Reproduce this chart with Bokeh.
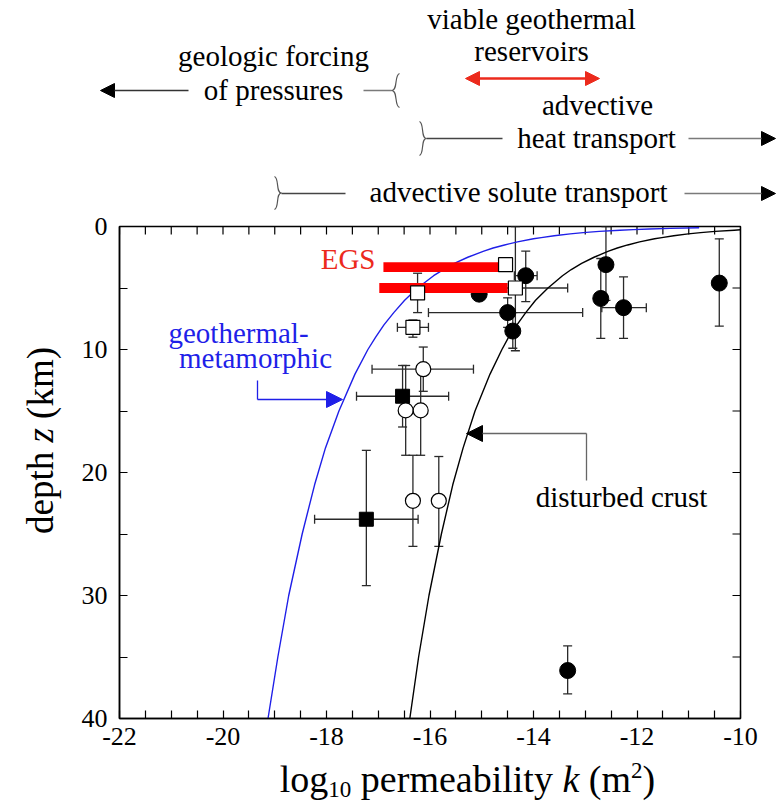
from bokeh.plotting import figure
from bokeh.models import (Range1d, FixedTicker, Arrow, NormalHead,
                          Whisker, TeeHead, ColumnDataSource)
from bokeh.layouts import row
from bokeh.embed import file_html
from bokeh.resources import INLINE
from bokeh.core.properties import value

SERIF = "Liberation Serif"

# ---------------- data ----------------
x_ticks = [-22, -20, -18, -16, -14, -12, -10]
x_tick_labels = ["-22", "-20", "-18", "-16", "-14", "-12", "-10"]
x_minor = [-21.5, -21, -20.5, -19.5, -19, -18.5, -17.5, -17, -16.5, -15.5, -15, -14.5,
           -13.5, -13, -12.5, -11.5, -11, -10.5]
y_ticks = [0, 10, 20, 30, 40]
y_tick_labels = ["0", "10", "20", "30", "40"]
y_minor = [5, 15, 25, 35]

# geothermal-metamorphic curve
gm_z = [0.1, 0.15, 0.2, 0.25, 0.3, 0.4, 0.5, 0.6, 0.75, 0.9, 1.0, 1.25, 1.5, 1.75, 2, 2.5, 3,
        3.5, 4, 5, 6, 7, 8, 9, 10, 12, 15, 18, 21, 25, 30, 35, 40]
gm_k = [-10.80, -11.36, -11.76, -12.07, -12.33, -12.73, -13.04, -13.29, -13.60, -13.85, -14.00,
        -14.31, -14.56, -14.78, -14.96, -15.27, -15.53, -15.74, -15.93, -16.24, -16.49, -16.70,
        -16.89, -17.05, -17.20, -17.45, -17.76, -18.02, -18.23, -18.47, -18.73, -18.94, -19.13]

# disturbed crust curve
dc_z = [0.27, 0.3, 0.4, 0.5, 0.6, 0.75, 0.9, 1.0, 1.25, 1.5, 1.75, 2, 2.5, 3, 3.5, 4, 5, 6, 7,
        8, 9, 10, 12, 15, 18, 21, 25, 30, 35, 40]
dc_k = [-10.00, -10.12, -10.49, -10.77, -11.01, -11.29, -11.52, -11.66, -11.95, -12.18, -12.38,
        -12.55, -12.83, -13.07, -13.27, -13.44, -13.72, -13.96, -14.15, -14.32, -14.48, -14.61,
        -14.84, -15.13, -15.36, -15.56, -15.78, -16.02, -16.22, -16.39]

# filled circles
fc_k = [-15.05, -14.50, -14.40, -14.15, -12.60, -12.70, -12.26, -10.41, -13.34]
fc_z = [5.5, 7.0, 8.5, 4.0, 3.1, 5.85, 6.6, 4.6, 36.1]
fc_k_lo = [None, -16.03, None, -14.37, None, None, -12.68, None, None]
fc_k_hi = [None, -13.05, None, -13.93, None, None, -11.82, None, None]
fc_z_lo = [None, 5.8, 7.0, 2.0, 0.0, 2.6, 4.1, 1.0, 34.1]
fc_z_hi = [None, 8.2, 9.9, 6.1, 6.0, 9.1, 9.1, 8.1, 38.0]

# open squares
os_k = [-14.54, -14.35, -16.24, -16.33]
os_z = [3.1, 5.0, 5.4, 8.2]
os_k_lo = [None, -15.35, None, -16.63]
os_k_hi = [None, -13.34, None, -16.03]
os_z_lo = [None, 0.0, 3.8, 7.6]
os_z_hi = [None, 10.1, 7.0, 9.0]

# filled squares
fs_k = [-16.53, -17.23]
fs_z = [13.8, 23.8]
fs_k_lo = [-17.42, -18.23]
fs_k_hi = [-15.64, -16.23]
fs_z_lo = [11.3, 18.2]
fs_z_hi = [16.3, 29.2]

# open circles
oc_k = [-16.13, -16.47, -16.18, -16.33, -15.83]
oc_z = [11.6, 14.95, 14.95, 22.3, 22.3]
oc_k_lo = [-17.12, None, None, None, None]
oc_k_hi = [-15.16, None, None, None, None]
oc_z_lo = [9.8, 11.3, 11.3, 18.6, 18.7]
oc_z_hi = [13.4, 18.6, 18.6, 26.0, 26.0]

# EGS bars
egs_z = [3.3, 5.0]
egs_left = [-16.90, -16.98]
egs_right = [-14.66, -14.50]

# ---------------- styling ----------------
BLUE = "#1f1fe8"
RED = "#ff0000"
RED_T = "#ec2a1c"
ERR = "#2a2a2a"
GRAY = "#7a7a7a"

# reference-pixel -> data helpers (annotation placement only)
X0, X1, Y0, Y1 = 119, 740, 226, 718
def kx(px):
    return -22 + (px - X0) * 12.0 / (X1 - X0)
def zy(py):
    return (py - Y0) * 40.0 / (Y1 - Y0)

BL = 0.36  # empirical shift so that the alphabetic baseline lands where wanted
def base(py, size):
    return py - BL * size

TOTAL_W = 776

# ---------------- top annotation panel (pixel coordinates) ----------------
TOP_H = 210
TF = 29
top = figure(width=TOTAL_W, height=TOP_H, x_range=Range1d(0, TOTAL_W), y_range=Range1d(TOP_H, 0),
             output_backend="svg", toolbar_location=None, min_border=0,
             x_axis_location=None, y_axis_location=None)
top.grid.visible = False
top.outline_line_color = None

ttxt = dict(text_font=value(SERIF), text_font_size=value(f"{TF}px"), text_align="center",
            text_baseline="alphabetic", text_color="black")
top.text(x=[531, 531], y=[base(29, TF), base(61, TF)], text=["viable geothermal", "reservoirs"], **ttxt)
top.text(x=[273, 273], y=[base(66, TF), base(100, TF)], text=["geologic forcing", "of pressures"], **ttxt)
top.text(x=[597, 596], y=[base(115, TF), base(148, TF)], text=["advective", "heat transport"], **ttxt)
top.text(x=[518], y=[base(202, TF)], text=["advective solute transport"], **ttxt)

top.add_layout(Arrow(start=NormalHead(size=14, fill_color=RED_T, line_color=RED_T),
                     end=NormalHead(size=14, fill_color=RED_T, line_color=RED_T),
                     x_start=465, y_start=78, x_end=599, y_end=78,
                     line_color=RED_T, line_width=2.5))
top.add_layout(Arrow(end=NormalHead(size=14, fill_color="black", line_color="black"),
                     x_start=188, y_start=90, x_end=100, y_end=90,
                     line_color="#333333", line_width=1.5))
top.segment(x0=[363], y0=[90], x1=[391], y1=[90], line_color=GRAY, line_width=1.5)
top.add_layout(Arrow(end=NormalHead(size=14, fill_color="black", line_color="black"),
                     x_start=688, y_start=138, x_end=775, y_end=138,
                     line_color=GRAY, line_width=1.5))
top.add_layout(Arrow(end=NormalHead(size=14, fill_color="black", line_color="black"),
                     x_start=684, y_start=193, x_end=775, y_end=193,
                     line_color=GRAY, line_width=1.5))
top.segment(x0=[426, 281], y0=[138, 193], x1=[502, 345], y1=[138, 193],
            line_color="#444444", line_width=1.3)

def brace(fig, xe, xp, y0, y1):
    ym = (y0 + y1) / 2.0
    fig.bezier(x0=[xe, xp], y0=[y0, ym], x1=[xp, xe], y1=[ym, y1],
               cx0=[xe + 0.7 * (xp - xe), xe + 0.15 * (xp - xe)], cy0=[y0 + 2, ym],
               cx1=[xe + 0.15 * (xp - xe), xe + 0.7 * (xp - xe)], cy1=[ym, y1 - 2],
               line_color="#555555", line_width=1.2)
brace(top, 399, 391, 73, 107)
brace(top, 419, 426, 121, 155)
brace(top, 274, 281, 176, 209)

# ---------------- main plot ----------------
LEFT_W = 74
MB_TOP, MB_BOT = 16, 40
MAIN_H = MB_TOP + (Y1 - Y0) + MB_BOT
p = figure(width=TOTAL_W - LEFT_W, height=MAIN_H, x_range=Range1d(-22, -10), y_range=Range1d(40, 0),
           output_backend="svg", toolbar_location=None,
           min_border_left=X0 - LEFT_W, min_border_right=TOTAL_W - X1,
           min_border_top=MB_TOP, min_border_bottom=MB_BOT)
p.grid.visible = False
p.outline_line_color = "black"
p.outline_line_width = 1.5

p.xaxis.ticker = FixedTicker(ticks=x_ticks, minor_ticks=x_minor)
p.yaxis.ticker = FixedTicker(ticks=y_ticks, minor_ticks=y_minor)
p.xaxis.major_label_overrides = dict(zip(x_ticks, x_tick_labels))
p.yaxis.major_label_overrides = dict(zip(y_ticks, y_tick_labels))
for ax in (p.xaxis[0], p.yaxis[0]):
    ax.major_tick_in = 8
    ax.major_tick_out = 0
    ax.minor_tick_in = 8
    ax.minor_tick_out = 0
    ax.major_tick_line_color = "black"
    ax.minor_tick_line_color = "black"
    ax.major_tick_line_width = 1.2
    ax.minor_tick_line_width = 1.2
    ax.axis_line_color = "black"
    ax.axis_line_width = 1.5
    ax.major_label_text_font = SERIF
    ax.major_label_text_font_size = "26px"
    ax.major_label_text_color = "black"
p.xaxis.major_label_standoff = 9
p.yaxis.major_label_standoff = 12

# inward ticks on the top and right edges of the frame
tick_dk = 8 * 12.0 / (X1 - X0)
tick_dz = 8 * 40.0 / (Y1 - Y0)
all_x = x_ticks + x_minor
all_y = y_ticks + y_minor
p.segment(x0=all_x, y0=[0] * len(all_x), x1=all_x, y1=[tick_dz] * len(all_x),
          line_color="black", line_width=1.2)
p.segment(x0=[-10] * len(all_y), y0=all_y, x1=[-10 - tick_dk] * len(all_y), y1=all_y,
          line_color="black", line_width=1.2)

# curves
p.line(gm_k, gm_z, line_color=BLUE, line_width=1.4)
p.line(dc_k, dc_z, line_color="black", line_width=1.4)

def add_err(ks, zs, klo, khi, zlo, zhi):
    ih = [i for i in range(len(ks)) if klo[i] is not None]
    if ih:
        src = ColumnDataSource(dict(base=[zs[i] for i in ih], lower=[klo[i] for i in ih],
                                    upper=[khi[i] for i in ih]))
        p.add_layout(Whisker(source=src, base="base", lower="lower", upper="upper",
                             dimension="width", line_color=ERR, line_width=1.3,
                             upper_head=TeeHead(size=9, line_color=ERR, line_width=1.3),
                             lower_head=TeeHead(size=9, line_color=ERR, line_width=1.3)))
    iv = [i for i in range(len(ks)) if zlo[i] is not None]
    if iv:
        src = ColumnDataSource(dict(base=[ks[i] for i in iv], lower=[zlo[i] for i in iv],
                                    upper=[zhi[i] for i in iv]))
        p.add_layout(Whisker(source=src, base="base", lower="lower", upper="upper",
                             dimension="height", line_color=ERR, line_width=1.3,
                             upper_head=TeeHead(size=9, line_color=ERR, line_width=1.3),
                             lower_head=TeeHead(size=9, line_color=ERR, line_width=1.3)))

add_err(fc_k, fc_z, fc_k_lo, fc_k_hi, fc_z_lo, fc_z_hi)
add_err(os_k, os_z, os_k_lo, os_k_hi, os_z_lo, os_z_hi)
add_err(fs_k, fs_z, fs_k_lo, fs_k_hi, fs_z_lo, fs_z_hi)
add_err(oc_k, oc_z, oc_k_lo, oc_k_hi, oc_z_lo, oc_z_hi)

p.scatter(fc_k, fc_z, marker="circle", size=16, fill_color="black", line_color="black")
p.scatter(fs_k, fs_z, marker="square", size=14, fill_color="black", line_color="black")
p.hbar(y=egs_z, left=egs_left, right=egs_right, height=0.8, fill_color=RED, line_color=None)
p.scatter(oc_k, oc_z, marker="circle", size=15, fill_color="white", line_color="black",
          line_width=1.2)
p.scatter(os_k, os_z, marker="square", size=14, fill_color="white", line_color="black",
          line_width=1.2)

# in-plot annotations
AF = 29
p.text(x=[kx(375)], y=[zy(base(269, AF))], text=["EGS"], text_font=value(SERIF),
       text_font_size=value(f"{AF}px"), text_align="right", text_baseline="alphabetic",
       text_color=RED_T)
p.text(x=[kx(238), kx(255)], y=[zy(base(343, AF)), zy(base(368, AF))],
       text=["geothermal-", "metamorphic"],
       text_font=value(SERIF), text_font_size=value(f"{AF}px"), text_align="center",
       text_baseline="alphabetic", text_color=BLUE)
p.text(x=[kx(621)], y=[zy(base(507, AF))], text=["disturbed crust"], text_font=value(SERIF),
       text_font_size=value(f"{AF}px"), text_align="center", text_baseline="alphabetic",
       text_color="black")

p.segment(x0=[kx(257)], y0=[zy(380)], x1=[kx(257)], y1=[zy(399)], line_color=BLUE, line_width=1.3)
p.add_layout(Arrow(end=NormalHead(size=16, fill_color=BLUE, line_color=BLUE),
                   x_start=kx(257), y_start=zy(399), x_end=kx(342), y_end=zy(399),
                   line_color=BLUE, line_width=1.3))
p.segment(x0=[kx(586)], y0=[zy(433)], x1=[kx(586)], y1=[zy(480)], line_color="#666666", line_width=1.3)
p.add_layout(Arrow(end=NormalHead(size=16, fill_color="black", line_color="black"),
                   x_start=kx(586), y_start=zy(433), x_end=kx(466), y_end=zy(433),
                   line_color="#666666", line_width=1.3))

# ---------------- y-axis title panel ----------------
yfig = figure(width=LEFT_W, height=MAIN_H, x_range=Range1d(0, LEFT_W), y_range=Range1d(40, 0),
              output_backend="svg", toolbar_location=None, min_border_left=0, min_border_right=0,
              min_border_top=MB_TOP, min_border_bottom=MB_BOT,
              x_axis_location=None, y_axis_location=None)
yfig.grid.visible = False
yfig.outline_line_color = None
FY = 37
ypieces = [("depth", "normal", 2222), (" ", "normal", 250), ("z", "italic", 389),
           (" ", "normal", 250), ("(km)", "normal", 1944)]
ytot = sum(w * FY / 1000.0 for _, _, w in ypieces)
cy = 440 + ytot / 2.0
for t, st, w in ypieces:
    wpx = w * FY / 1000.0
    if t.strip():
        yfig.text(x=[40], y=[zy(cy - wpx / 2.0)], text=[t], angle=1.5707963,
                  text_font=value(SERIF), text_font_size=value(f"{FY}px"), text_font_style=st,
                  text_align="center", text_baseline="middle", text_color="black")
    cy -= wpx

# ---------------- x-axis title panel (pixel coordinates) ----------------
BOT_Y0 = Y0 - MB_TOP + MAIN_H  # top of this panel in reference pixels
BOT_H = 802 - BOT_Y0
bot = figure(width=TOTAL_W, height=BOT_H, x_range=Range1d(0, TOTAL_W),
             y_range=Range1d(BOT_Y0 + BOT_H, BOT_Y0),
             output_backend="svg", toolbar_location=None, min_border=0,
             x_axis_location=None, y_axis_location=None)
bot.grid.visible = False
bot.outline_line_color = None
F = 38
SUB = 23
pieces = [("log", F, "normal", 0, 1278), ("10", SUB, "normal", 5, 1000), (" ", F, "normal", 0, 250),
          ("permeability", F, "normal", 0, 5055), (" ", F, "normal", 0, 250),
          ("k", F, "italic", 0, 444), (" ", F, "normal", 0, 250), ("(m", F, "normal", 0, 1111),
          ("2", SUB, "normal", -14, 500), (")", F, "normal", 0, 333)]
total = sum(w * s / 1000.0 for _, s, _, _, w in pieces)
cx = 467 - total / 2.0
for t, s, st, dy, w in pieces:
    if t.strip():
        bot.text(x=[cx], y=[base(792 + dy, s)], text=[t], text_font=value(SERIF),
                 text_font_size=value(f"{s}px"), text_font_style=st, text_align="left",
                 text_baseline="alphabetic", text_color="black")
    cx += w * s / 1000.0

middle = row(yfig, p)
open("out.html", "w").write(file_html([top, middle, bot], INLINE))
